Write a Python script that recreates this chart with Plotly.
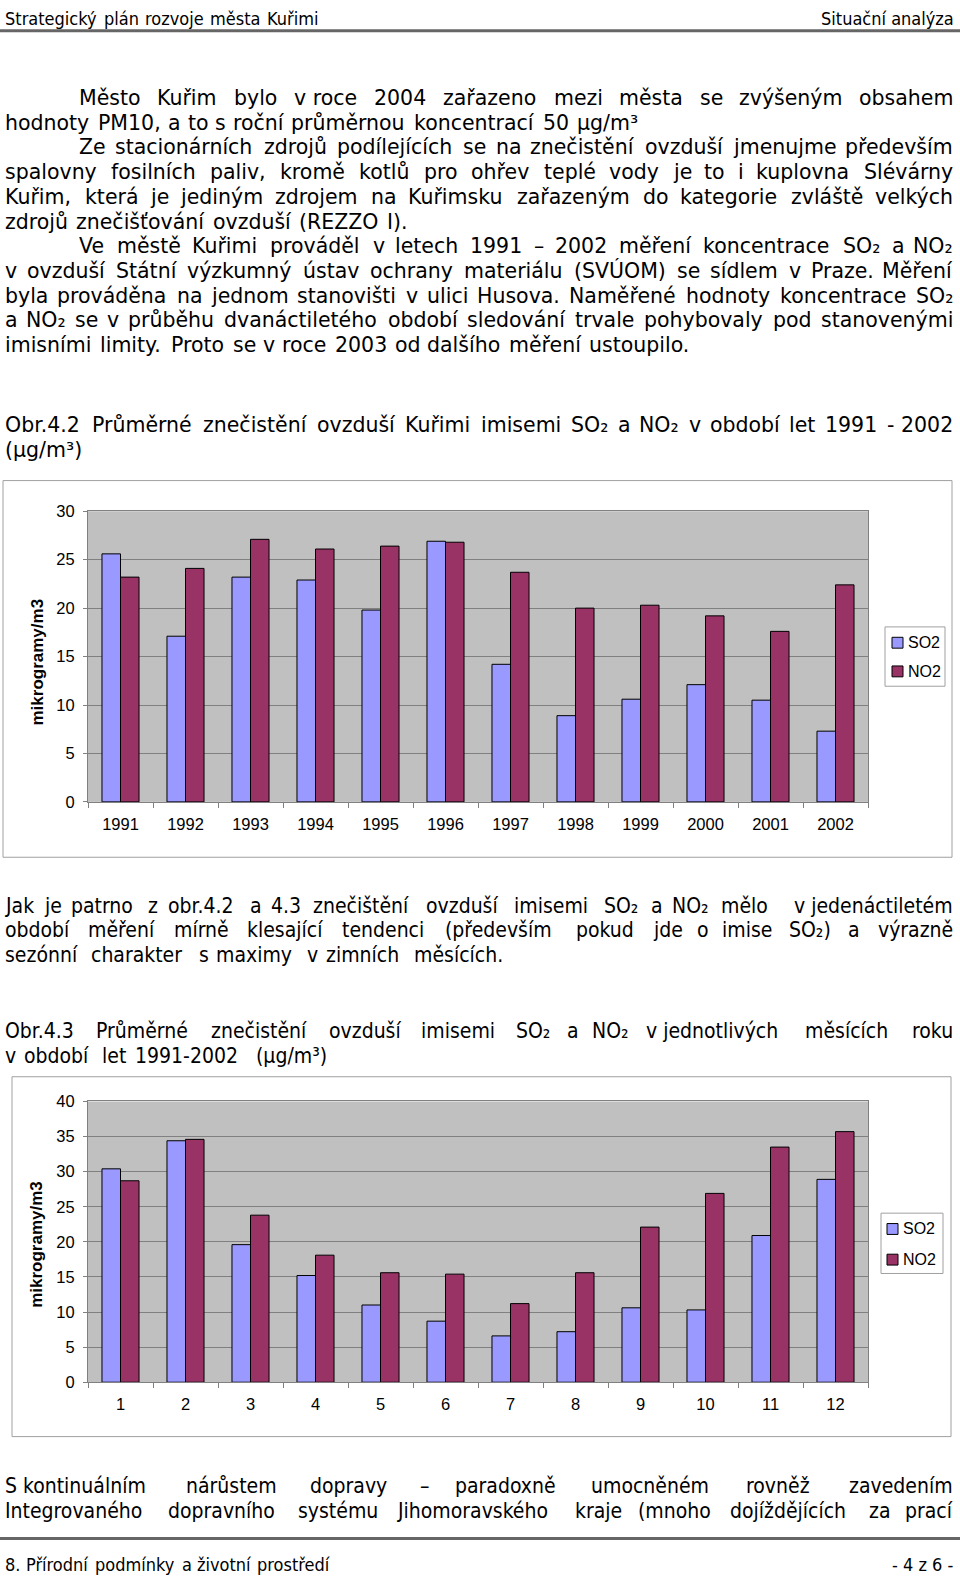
import re
import unicodedata
import plotly.graph_objects as go

# ---------------- data ----------------
years = ["1991", "1992", "1993", "1994", "1995", "1996",
         "1997", "1998", "1999", "2000", "2001", "2002"]
so2_years = [25.6, 17.1, 23.2, 22.9, 19.8, 26.9, 14.2, 8.9, 10.6, 12.1, 10.5, 7.3]
no2_years = [23.2, 24.1, 27.1, 26.1, 26.4, 26.8, 23.7, 20.0, 20.3, 19.2, 17.6, 22.4]

months = ["1", "2", "3", "4", "5", "6", "7", "8", "9", "10", "11", "12"]
so2_months = [30.4, 34.4, 19.6, 15.2, 11.0, 8.7, 6.6, 7.2, 10.6, 10.3, 20.9, 28.9]
no2_months = [28.7, 34.6, 23.8, 18.1, 15.6, 15.4, 11.2, 15.6, 22.1, 26.9, 33.5, 35.7]

series_names = ["SO2", "NO2"]
y_title = "mikrogramy/m3"

header_left = "Strategický plán rozvoje města Kuřimi"
header_right = "Situační analýza"
footer_left = "8. Přírodní podmínky a životní prostředí"
footer_right = "- 4 z 6 -"

NB = "\u00a0"
text_a = [
    (90, 78, "J", "Město Kuřim bylo v" + NB + "roce 2004 zařazeno mezi města se zvýšeným obsahem"),
    (115, 4, "L", "hodnoty PM10, a to s roční průměrnou koncentrací 50 μg/m³"),
    (140, 78, "J", "Ze stacionárních zdrojů podílejících se na znečistění ovzduší jmenujme především"),
    (165, 4, "J", "spalovny fosilních paliv, kromě kotlů pro ohřev teplé vody je to i kuplovna Slévárny"),
    (190, 4, "J", "Kuřim, která je jediným zdrojem na Kuřimsku zařazeným do kategorie zvláště velkých"),
    (215, 4, "L", "zdrojů znečišťování ovzduší (REZZO I)."),
    (240, 78, "J", "Ve městě Kuřimi prováděl v letech 1991 – 2002 měření koncentrace SO₂ a NO₂"),
    (265, 4, "J", "v ovzduší Státní výzkumný ústav ochrany materiálu (SVÚOM) se sídlem v Praze. Měření"),
    (290, 4, "J", "byla prováděna na jednom stanovišti v ulici Husova. Naměřené hodnoty koncentrace SO₂"),
    (315, 4, "J", "a NO₂ se v průběhu dvanáctiletého období sledování trvale pohybovaly pod stanovenými"),
    (340, 4, "L", "imisními limity. Proto se v roce 2003 od dalšího měření ustoupilo."),
    (421, 4, "J", "Obr.4.2 Průměrné znečistění ovzduší Kuřimi imisemi SO₂ a NO₂ v období let 1991 - 2002"),
    (446, 4, "L", "(μg/m³)"),
]
text_b = [
    (907, 4, "J", "Jak je patrno z obr.4.2 a 4.3 znečištění ovzduší imisemi SO₂ a NO₂ mělo v" + NB + "jedenáctiletém"),
    (932, 4, "J", "období měření mírně klesající tendenci (především pokud jde o imise SO₂) a výrazně"),
    (957, 4, "L", "sezónní charakter s maximy v zimních měsících."),
    (1034, 4, "J", "Obr.4.3 Průměrné znečistění ovzduší imisemi SO₂ a NO₂ v" + NB + "jednotlivých měsících roku"),
    (1059, 4, "L", "v období let 1991-2002 (μg/m³)"),
    (1494, 4, "J", "S" + NB + "kontinuálním nárůstem dopravy – paradoxně umocněném rovněž zavedením"),
    (1519, 4, "J", "Integrovaného dopravního systému Jihomoravského kraje (mnoho dojíždějících za prací"),
]

# ---------------- style ----------------
W, H = 960, 1585
SO2_COLOR = "#9999FF"
NO2_COLOR = "#993366"
PLOT_BG = "#C0C0C0"
GRID = "#808080"
BODY_FONT = "DejaVu Sans, Verdana"
COND_FONT = "Liberation Sans Narrow, DejaVu Sans Condensed, Roboto, Liberation Sans"
CHART_FONT = "Liberation Sans, Arial"


def px(x):
    return x / W


def py(y):
    return 1 - y / H


ADV = {
    " ": 651, NB: 651, "!": 821, "(": 799, ")": 799, ",": 651, "-": 739, ".": 651,
    "/": 690, ":": 690, ";": 690, "–": 1024, "μ": 1300, "₂": 840, "³": 840,
    "A": 1401, "B": 1405, "C": 1430, "D": 1577, "E": 1294, "F": 1178, "G": 1587,
    "H": 1540, "I": 604, "J": 604, "K": 1343, "L": 1141, "M": 1767, "N": 1532,
    "O": 1612, "P": 1235, "Q": 1612, "R": 1423, "S": 1300, "T": 1251, "U": 1499,
    "V": 1401, "W": 2025, "X": 1403, "Y": 1251, "Z": 1403,
    "a": 1255, "b": 1300, "c": 1126, "d": 1300, "e": 1260, "f": 721, "g": 1300,
    "h": 1298, "i": 569, "j": 569, "k": 1186, "l": 569, "m": 1995, "n": 1298,
    "o": 1253, "p": 1300, "q": 1300, "r": 842, "s": 1067, "t": 803, "u": 1298,
    "v": 1212, "w": 1675, "x": 1212, "y": 1212, "z": 1075,
}
for d in "0123456789":
    ADV[d] = 1303


def text_width(s, size):
    total = 0.0
    for ch in s:
        base = ch if ch in ADV else unicodedata.normalize("NFD", ch)[0]
        total += ADV.get(base, 1200)
    return total / 2048 * size


annotations = []


def ann(x, y, text, anchor="left", family=BODY_FONT, size=20, weight="normal", **kw):
    annotations.append(dict(
        x=px(x), y=py(y), xref="paper", yref="paper", text=text,
        showarrow=False, xanchor=anchor, yanchor="middle",
        font=dict(family=family, size=size, color="black", weight=weight), **kw))


def place_line(y, x0, mode, text, family, size, msize, x1=955):
    words = text.split(" ")
    widths = [text_width(w, msize) for w in words]
    if mode == "J" and len(words) > 1:
        gap = (x1 - x0 - sum(widths)) / (len(words) - 1)
    else:
        gap = text_width(" ", msize)
    x = x0
    for i, (w, wd) in enumerate(zip(words, widths)):
        if mode == "J" and i == len(words) - 1 and len(words) > 1:
            ann(x1, y, w, "right", family, size)
        else:
            ann(x - 1, y, w, "left", family, size)
        x += wd + gap


for (yy, x0, mode, t) in text_a:
    place_line(yy, x0, mode, t, BODY_FONT, 20.5, 20.9)
for (yy, x0, mode, t) in text_b:
    place_line(yy, x0, mode, t, COND_FONT, 21, 20.9)

# header / footer
place_line(10, 4, "L", header_left, COND_FONT, 18, 16.5)
ann(956, 10, header_right, "right", COND_FONT, 18)
place_line(1573, 4, "L", footer_left, COND_FONT, 18, 16.5)
ann(956, 1573, footer_right, "right", COND_FONT, 18)

# ---------------- figure ----------------
fig = go.Figure()
bar_line = dict(color="black", width=1)
fig.add_trace(go.Bar(x=years, y=so2_years, name=series_names[0],
                     marker=dict(color=SO2_COLOR, line=bar_line), xaxis="x", yaxis="y"))
fig.add_trace(go.Bar(x=years, y=no2_years, name=series_names[1],
                     marker=dict(color=NO2_COLOR, line=bar_line), xaxis="x", yaxis="y"))
fig.add_trace(go.Bar(x=months, y=so2_months, name=series_names[0],
                     marker=dict(color=SO2_COLOR, line=bar_line), xaxis="x2", yaxis="y2"))
fig.add_trace(go.Bar(x=months, y=no2_months, name=series_names[1],
                     marker=dict(color=NO2_COLOR, line=bar_line), xaxis="x2", yaxis="y2"))

tick_font = dict(family=CHART_FONT, size=16.5, color="black")
xcommon = dict(type="category", showline=True, linecolor=GRID, linewidth=1, mirror=True,
               ticks="outside", ticklen=5, tickcolor=GRID, tickson="boundaries",
               showgrid=False, tickfont=tick_font, ticklabelstandoff=7)
ycommon = dict(showline=True, linecolor=GRID, linewidth=1, mirror=True, ticks="outside",
               ticklen=4, tickcolor=GRID, gridcolor=GRID, gridwidth=1, zeroline=False,
               tickfont=tick_font, dtick=5, ticklabelstandoff=5)

fig.update_layout(
    width=W, height=H, margin=dict(l=0, r=0, t=0, b=0),
    paper_bgcolor="white", plot_bgcolor=PLOT_BG, showlegend=False,
    barmode="group", bargap=0.43, bargroupgap=0,
    xaxis=dict(domain=[px(88), px(868)], anchor="y", **xcommon),
    yaxis=dict(domain=[py(802), py(508)], anchor="x", range=[0, 30], **ycommon),
    xaxis2=dict(domain=[px(88), px(868)], anchor="y2", **xcommon),
    yaxis2=dict(domain=[py(1389), py(1105)], anchor="x2", range=[0, 40], **ycommon),
)

shapes = []


def rect(x0, y0, x1, y1, line_color, fill="rgba(0,0,0,0)", width=1, layer="above"):
    shapes.append(dict(type="rect", xref="paper", yref="paper",
                       x0=px(x0), x1=px(x1), y0=py(y0), y1=py(y1),
                       line=dict(color=line_color, width=width), fillcolor=fill, layer=layer))


def hline(y, color, width):
    shapes.append(dict(type="line", xref="paper", yref="paper", x0=0, x1=1,
                       y0=py(y), y1=py(y), line=dict(color=color, width=width)))


# page rules
hline(22, "#666666", 3)
hline(1547, "#666666", 3)

# chart frames
rect(3, 477, 952, 858, "#A0A0A0", layer="below")
rect(12, 1080, 951, 1444, "#A0A0A0", layer="below")

# legends (chart 1 and chart 2)
legend_boxes = [
    dict(box=(885, 625, 945, 685), sw_x=892, rows=(641, 670), tx=908),
    dict(box=(881, 1218, 943, 1279), sw_x=887, rows=(1234, 1265), tx=903),
]
for lg in legend_boxes:
    bx0, by0, bx1, by1 = lg["box"]
    rect(bx0, by0, bx1, by1, "#A0A0A0", fill="white")
    for name, color, ry in zip(series_names, [SO2_COLOR, NO2_COLOR], lg["rows"]):
        rect(lg["sw_x"], ry - 5.5, lg["sw_x"] + 11, ry + 5.5, "black", fill=color)
        ann(lg["tx"] - 2, ry, name, "left", CHART_FONT, 16)

# y-axis titles
ann(37, 661, y_title, "center", CHART_FONT, 17, weight="bold", textangle=-90)
ann(37, 1250, y_title, "center", CHART_FONT, 17, weight="bold", textangle=-90)

fig.update_layout(shapes=shapes, annotations=annotations)
fig.write_html(
    "out.html",
    config={"displayModeBar": False},
    post_script="document.body.style.margin='0';document.body.style.padding='0';"
                "document.documentElement.style.overflow='hidden';"
                "document.body.style.overflow='hidden';",
)
